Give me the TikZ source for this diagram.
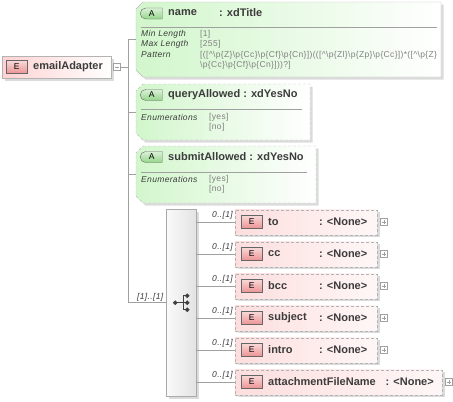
\documentclass[tikz,border=0pt]{standalone}
\usepackage{fontspec}
\setmainfont{Liberation Sans}
\newfontfamily\smallsf[LetterSpace=4]{Liberation Sans}
\usetikzlibrary{shapes.misc,shadows}

\definecolor{elempink}{RGB}{255,210,210}
\definecolor{optpink}{RGB}{253,222,222}
\definecolor{badgered}{RGB}{236,146,146}
\definecolor{attrgreen}{RGB}{210,246,204}
\definecolor{badgegreen}{RGB}{148,214,138}
\definecolor{linegray}{RGB}{160,160,160}
\definecolor{textgray}{RGB}{60,60,60}

\newcommand{\pp}[1]{\textbackslash p\{#1\}}
\newcommand{\crt}{\textasciicircum}

\begin{document}
\begin{tikzpicture}[x=1pt,y=-1pt,
    shadowed/.style={drop shadow={shadow xshift=2.5pt,shadow yshift=-2.5pt,fill=black!40,opacity=.35}},
    elem/.style={draw=linegray!80, left color=elempink, right color=white, inner sep=0, anchor=north west, shadowed},
    optelem/.style={elem, dash pattern=on 3pt off 2pt, left color=optpink, right color=optpink!25},
    attr/.style={draw=linegray!70, left color=attrgreen, right color=white, shadowed},
    optattr/.style={attr, dash pattern=on 3pt off 2pt},
    ebadge/.style={draw=black!60, top color=badgered!35, bottom color=badgered, minimum width=21pt, minimum height=13pt, inner sep=0, anchor=west, font=\fontsize{8.5}{9}\selectfont},
    abadge/.style={rounded rectangle, rounded rectangle east arc=none, draw=black!60, top color=badgegreen!35, bottom color=badgegreen, minimum width=22pt, minimum height=11pt, inner sep=0, anchor=west, font=\fontsize{8.5}{9}\selectfont},
    title/.style={font=\fontsize{11}{12}\bfseries, text=textgray, anchor=west, inner sep=0},
    lbl/.style={font=\smallsf\fontsize{8.5}{9}\itshape, text=textgray, anchor=west, inner sep=0},
    val/.style={font=\smallsf\fontsize{8.5}{9}\selectfont, text=gray, anchor=west, inner sep=0},
    sepline/.style={draw=linegray, line width=.6pt},
    conn/.style={draw=linegray, line width=.7pt},
    togglebox/.style={draw=linegray, fill=white, minimum size=7pt, inner sep=0},
    minusbox/.style={togglebox, path picture={\draw[linegray] ([xshift=1.5pt]path picture bounding box.west) -- ([xshift=-1.5pt]path picture bounding box.east);}},
    plusbox/.style={togglebox, path picture={\draw[linegray] ([xshift=1.5pt]path picture bounding box.west) -- ([xshift=-1.5pt]path picture bounding box.east) ([yshift=-1.5pt]path picture bounding box.north) -- ([yshift=1.5pt]path picture bounding box.south);}},
    seqbar/.style={draw=linegray!90, left color=gray!4, right color=gray!22, minimum width=30pt, minimum height=187pt, inner sep=0, anchor=north west, shadowed},
    icon/.style={draw=black!75, fill=black!75, line width=.8pt}]
    \useasboundingbox (0,0) rectangle (453,402);

    % root element
    \node[elem, minimum width=109pt, minimum height=22pt] (root) at (2,56) {};
    \node[ebadge] (rootE) at (6,67) {E};
    \node[title] (rootT) at (33,67) {emailAdapter};
    \node[minusbox] (rootX) at (117,67) {};
    \coordinate (spine) at (128,67);

    % attribute name
    \draw[attr] (143,2) -- (441,2) -- (441,77) -- (143,77) -- (136,70) -- (136,9) -- cycle;
    \coordinate (name) at (136,39.5);
    \node[abadge] (nameA) at (140,13.5) {A};
    \node[title] (nameT) at (168,13) {name};
    \node[title] (nameY) at (219,13) {: xdTitle};
    \draw[sepline] (141,27.5) -- (437,27.5);
    \node[lbl] (nameL1) at (141,34.5) {Min Length};
    \node[lbl] (nameL2) at (141,44.5) {Max Length};
    \node[lbl] (nameL3) at (141,55) {Pattern};
    \node[val] (nameV1) at (200,34.5) {[1]};
    \node[val] (nameV2) at (200,44.5) {[255]};
    \node[val] (nameV3) at (200,55.5) {[([\crt\pp{Z}\pp{Cc}\pp{Cf}\pp{Cn}])(([\crt\pp{Zl}\pp{Zp}\pp{Cc}])*([\crt\pp{Z}};
    \node[val] (nameV4) at (200,65.5) {\pp{Cc}\pp{Cf}\pp{Cn}]))?]};

    % attribute queryAllowed
    \draw[optattr] (143,84) -- (310,84) -- (310,140) -- (143,140) -- (136,133) -- (136,91) -- cycle;
    \coordinate (query) at (136,112);
    \node[abadge] (queryA) at (140,95) {A};
    \node[title] (queryT) at (168,95) {queryAllowed : xdYesNo};
    \draw[sepline] (141,109) -- (302,109);
    \node[lbl] (queryL) at (141,117) {Enumerations};
    \node[val] (queryV1) at (209,117) {[yes]};
    \node[val] (queryV2) at (209,127.5) {[no]};

    % attribute submitAllowed
    \draw[optattr] (143,146) -- (316,146) -- (316,203) -- (143,203) -- (136,196) -- (136,153) -- cycle;
    \coordinate (submit) at (136,174.5);
    \node[abadge] (submitA) at (140,157) {A};
    \node[title] (submitT) at (168,157) {submitAllowed : xdYesNo};
    \draw[sepline] (141,172) -- (307,172);
    \node[lbl] (submitL) at (141,179.5) {Enumerations};
    \node[val] (submitV1) at (209,179.5) {[yes]};
    \node[val] (submitV2) at (209,189.5) {[no]};

    % sequence
    \node[seqbar] (seq) at (166,209) {};
    \node[lbl] (seqM) at (137,297.5) {[1]..[1]};
    \draw[icon] (seq.center) ++(-6,0) -- ++(8,0) (seq.center) ++(2,-7) -- ++(0,14)
        (seq.center) ++(2,-7) -- ++(4,0) (seq.center) ++(2,7) -- ++(4,0) (seq.center) ++(2,0) -- ++(4,0);
    \fill[icon] (seq.center) ++(-6,0) circle (1.8) (seq.center) ++(6,-7) circle (1.8)
        (seq.center) ++(6,0) circle (1.8) (seq.center) ++(6,7) circle (1.8);

    % child elements
    \foreach \nm/\w/\tx [count=\i from 0] in {to/142/319, cc/142/319, bcc/142/319, subject/142/319, intro/142/319, attachmentFileName/207/385.5} {
        \node[optelem, minimum width=\w pt, minimum height=25pt] (c\i) at (235,209.5+32*\i) {};
        \node[ebadge] (e\i) at (241,222+32*\i) {E};
        \node[title] (t\i) at (268,222+32*\i) {\nm};
        \node[title] (y\i) at (\tx,222+32*\i) {: <None>};
        \node[plusbox] (p\i) at (235+\w+7,222+32*\i) {};
        \node[lbl, anchor=east] (m\i) at (233,215+32*\i) {0..[1]};
        \draw[conn] (seq.east |- c\i.west) -- (c\i.west);
    }

    % connectors
    \draw[conn] (rootX.east) -- (spine);
    \draw[conn] (name) -| (spine);
    \draw[conn] (query) -| (spine);
    \draw[conn] (submit) -| (spine);
    \draw[conn] (seq.west) -| (spine);
\end{tikzpicture}
\end{document}
